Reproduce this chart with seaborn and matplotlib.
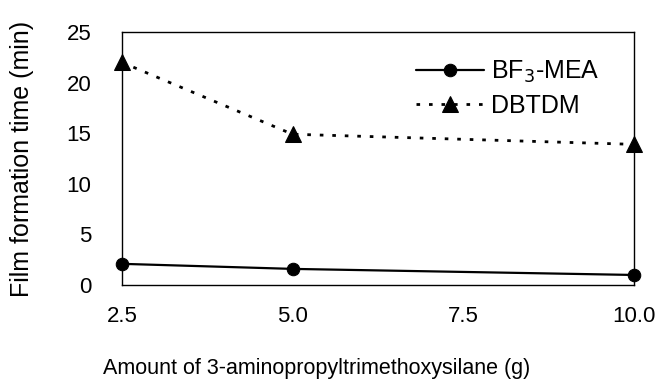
import matplotlib
matplotlib.use("Agg")
import matplotlib.pyplot as plt
import seaborn as sns
import pandas as pd

# --- data ---
amount_g = [2.5, 5.0, 10.0]
bf3_mea = [2.1, 1.6, 1.0]
dbtdm = [22.0, 14.9, 13.9]
x_ticks = [2.5, 5.0, 7.5, 10.0]
y_ticks = [0, 5, 10, 15, 20, 25]

sns.set_style("white")
plt.rcParams['font.family'] = ['Liberation Sans', 'DejaVu Sans']
plt.rcParams['text.color'] = 'black'
plt.rcParams['axes.labelcolor'] = 'black'

df = pd.DataFrame({'amount': amount_g, 'BF3': bf3_mea, 'DBTDM': dbtdm})

fig = plt.figure(figsize=(6.55, 3.9), dpi=100)
ax = fig.add_axes([0.186, 0.269, 0.782, 0.649])

sns.lineplot(data=df, x='amount', y='BF3', ax=ax, color='black', linewidth=1.6,
             marker='o', markersize=9, markeredgecolor='black',
             label='BF$_3$-MEA', clip_on=False)
sns.lineplot(data=df, x='amount', y='DBTDM', ax=ax, color='black', linewidth=2.0,
             linestyle=(0, (1.3, 3.2)), marker='^', markersize=11,
             markeredgecolor='black', label='DBTDM', clip_on=False)

ax.set_xlim(2.5, 10.0)
ax.set_ylim(0, 25)
ax.set_xticks(x_ticks)
ax.set_xticklabels([f"{v:.1f}" for v in x_ticks])
ax.set_yticks(y_ticks)

for s in ax.spines.values():
    s.set_color('black')
    s.set_linewidth(1.0)

ax.tick_params(axis='x', direction='in', length=6, width=1, pad=15,
               labelsize=16, colors='black')
ax.tick_params(axis='y', direction='in', length=6, width=1, pad=22,
               labelsize=16, colors='black')

# reference uses a condensed face; shrink size to match its width
ax.set_xlabel('Amount of 3-aminopropyltrimethoxysilane (g)', fontsize=15.5)
ax.set_ylabel('Film formation time (min)', fontsize=18)
ax.xaxis.set_label_coords(0.38, -0.29)
ax.yaxis.set_label_coords(-0.172, 0.5)

leg = ax.legend(loc='upper left', bbox_to_anchor=(0.575, 0.895), frameon=False,
                fontsize=18, handlelength=2.7, handletextpad=0.3,
                labelspacing=0.35, borderpad=0, borderaxespad=0)

fig.savefig('out.png', dpi=100)
